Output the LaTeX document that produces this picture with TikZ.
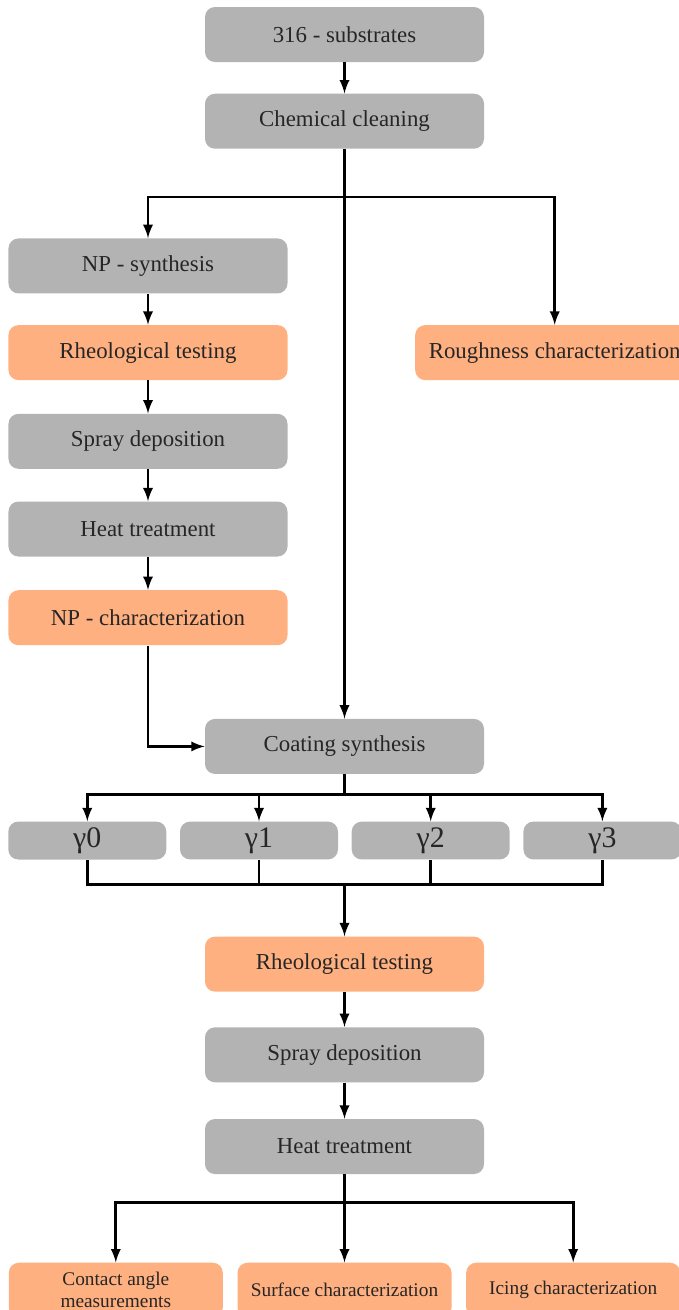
\documentclass[tikz,border=0pt]{standalone}
\usepackage{fontspec}
\setmainfont{Liberation Serif}
\usetikzlibrary{positioning}

\definecolor{boxgray}{RGB}{179,179,179}
\definecolor{boxorange}{RGB}{255,176,128}

\begin{document}
\begin{tikzpicture}
\tikzstyle{proc}=[rectangle, rounded corners=2mm, fill=boxgray, minimum width=55.8mm, minimum height=11mm, font=\fontsize{13}{15}\selectfont, text=black!85]
\tikzstyle{test}=[proc, fill=boxorange]
\tikzstyle{gam}=[proc, minimum width=31.6mm, minimum height=7mm, font=\fontsize{17}{19}\selectfont]
\tikzstyle{result}=[test, minimum width=42.8mm, font=\fontsize{11}{12.5}\selectfont, align=center]
\tikzstyle{connect}=[-latex, line width=1.6pt]
\tikzstyle{link}=[line width=1.6pt]
\useasboundingbox (0,0) rectangle (13.58,-26.2);
\node[proc] (subs) at (6.89,-0.69) {316 - substrates};
\node[proc] (clean) [below=6.2mm of subs] {Chemical cleaning};
\coordinate[below=9.6mm of clean] (split);
\node[proc] (npsyn) [below=17.8mm of clean, xshift=-39.3mm] {NP - synthesis};
\node[test] (rheoA) [below=6.2mm of npsyn] {Rheological testing};
\node[proc] (sprayA) [below=6.6mm of rheoA] {Spray deposition};
\node[proc] (heatA) [below=6.4mm of sprayA] {Heat treatment};
\node[test] (npchar) [below=6.6mm of heatA] {NP - characterization};
\node[test] (rough) [right=25.4mm of rheoA] {Roughness characterization};
\node[proc] (coat) [below=14.6mm of npchar, xshift=39.3mm] {Coating synthesis};
\coordinate[below=4mm of coat] (gsplit);
\node[gam] (g1) [below=9.4mm of coat, xshift=-17.1mm] {γ1};
\node[gam] (g0) [left=2.6mm of g1] {γ0};
\node[gam] (g2) [right=2.6mm of g1] {γ2};
\node[gam] (g3) [right=2.6mm of g2] {γ3};
\coordinate[below=22mm of coat] (gmerge);
\node[test] (rheoB) [below=32.4mm of coat] {Rheological testing};
\node[proc] (sprayB) [below=7mm of rheoB] {Spray deposition};
\node[proc] (heatB) [below=7.2mm of sprayB] {Heat treatment};
\coordinate[below=5.6mm of heatB] (fsplit);
\node[result] (surf) [below=17.6mm of heatB] {Surface characterization};
\node[result] (contact) [left=2.8mm of surf] {Contact angle\\measurements};
\node[result] (icing) [right=2.8mm of surf] {Icing characterization};
\draw[connect] (subs) -- (clean);
\draw[connect] (clean.south) -- (coat.north);
\draw[connect] (split) -| (npsyn.north);
\draw[connect] (split) -| (rough.north);
\draw[connect] (npsyn) -- (rheoA);
\draw[connect] (rheoA) -- (sprayA);
\draw[connect] (sprayA) -- (heatA);
\draw[connect] (heatA) -- (npchar);
\draw[connect] (npchar.south) |- (coat.west);
\draw[link] (coat.south) -- (gsplit);
\draw[connect] (gsplit) -| (g0.north);
\draw[connect] (gsplit) -| (g1.north);
\draw[connect] (gsplit) -| (g2.north);
\draw[connect] (gsplit) -| (g3.north);
\draw[link] (g0.south) |- (gmerge) -| (g3.south);
\draw[link] (g1.south) -- (g1.south |- gmerge);
\draw[link] (g2.south) -- (g2.south |- gmerge);
\draw[connect] (gmerge) -- (rheoB.north);
\draw[connect] (rheoB) -- (sprayB);
\draw[connect] (sprayB) -- (heatB);
\draw[link] (heatB.south) -- (fsplit);
\draw[connect] (fsplit) -| (contact.north);
\draw[connect] (fsplit) -- (surf.north);
\draw[connect] (fsplit) -| (icing.north);
\end{tikzpicture}
\end{document}
